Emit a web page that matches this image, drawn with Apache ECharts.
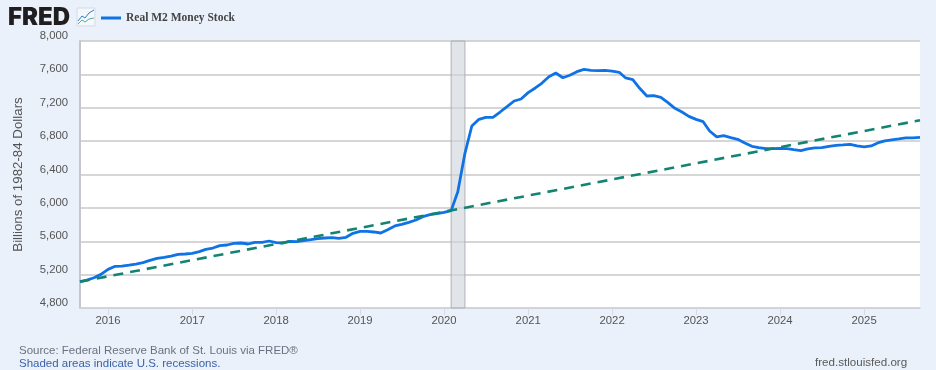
<!DOCTYPE html>
<html>
<head>
<meta charset="utf-8">
<style>html,body{margin:0;padding:0;background:#eaf1fa}#c{width:936px;height:370px}</style>
<script src="https://cdn.jsdelivr.net/npm/echarts@6/dist/echarts.min.js"></script>
</head>
<body>
<div id="c"></div>
<script>
const startYear = 2015, startMonth = 8; // September 2015, first observation
const m2Values = [
  5115,5135,5163,5203,
  5263,5300,5303,5315,5327,5343,5370,5395,5407,5423,5443,5447,
  5455,5475,5503,5519,5547,5555,5575,5579,5567,5587,5587,5603,
  5583,5579,5599,5595,5607,5619,5631,5639,5643,5635,5647,5695,
  5719,5719,5711,5699,5739,5783,5803,5827,5855,5895,5919,5931,
  5947,5967,6194,6654,6981,7061,7085,7085,7149,7213,7281,7305,
  7381,7437,7493,7572,7616,7560,7589,7632,7660,7649,7644,7649,
  7640,7625,7557,7537,7433,7341,7345,7325,7261,7193,7149,7097,
  7061,7033,6921,6852,6865,6841,6821,6778,6738,6721,6709,6709,
  6714,6709,6697,6685,6706,6718,6721,6738,6750,6754,6762,6742,
  6730,6742,6778,6802,6814,6826,6838,6838,6846
];
const trendDates = ['2015-09-01','2025-09-01'];
const trendValues = [5115,7050];
const recession = ['2020-02-01','2020-04-01'];
const yearTicks = ['2016','2017','2018','2019','2020','2021','2022','2023','2024','2025'];
const yTicks = [4800,5200,5600,6000,6400,6800,7200,7600,8000];

const ms = d => Date.parse(d+'T00:00:00Z');
const m2Series = m2Values.map((v,i)=>[Date.UTC(startYear,startMonth+i,1),v]);
const trendSeries = trendDates.map((d,i)=>[ms(d),trendValues[i]]);
const yearStamps = yearTicks.map(y=>Date.UTC(+y,0,1));
const font = '"Liberation Sans", Arial, sans-serif';

const chart = echarts.init(document.getElementById('c'),null,{renderer:'canvas'});
chart.setOption({
  animation:false,
  backgroundColor:'#eaf1fa',
  textStyle:{fontFamily:font},
  grid:{left:80,right:16,top:41,bottom:62,show:true,backgroundColor:'#fff',borderWidth:0,outerBoundsMode:'none'},
  legend:{
    data:['Real M2 Money Stock'],left:96,top:7,itemWidth:20,itemHeight:3,icon:'rect',itemGap:5,
    textStyle:{fontFamily:'"Liberation Serif", serif',fontWeight:'bold',fontSize:11.5,color:'#444'}
  },
  xAxis:{
    type:'value',
    min:ms(trendDates[0]),
    max:ms(trendDates[1]),
    axisLine:{lineStyle:{color:'#cfd4da',width:1.5}},
    axisTick:{show:true,length:7,lineStyle:{color:'#d5dbe2'},customValues:yearStamps},
    axisLabel:{color:'#555',fontSize:11.3,margin:7,customValues:yearStamps,hideOverlap:false,
      formatter:v=>String(new Date(v).getUTCFullYear())},
    splitLine:{show:false}
  },
  yAxis:{
    type:'value',min:4800,max:8000,interval:400,
    name:'Billions of 1982-84 Dollars',nameLocation:'middle',nameGap:55,
    nameTextStyle:{color:'#555',fontSize:13.3,fontFamily:font},
    axisLine:{show:true,lineStyle:{color:'#c4c8cd',width:2}},
    axisTick:{show:false},
    axisLabel:{color:'#555',fontSize:11.3,margin:12,verticalAlign:'bottom',lineHeight:10,
      formatter:v=>yTicks.includes(v)?v.toLocaleString('en-US'):''},
    splitLine:{show:true,lineStyle:{color:'#c9c9c9',width:1.6}}
  },
  series:[
    {
      name:'Real M2 Money Stock',type:'line',data:m2Series,showSymbol:false,symbol:'none',
      lineStyle:{color:'#0f73e6',width:2.8},itemStyle:{color:'#0f73e6'},z:3,
      markArea:{silent:true,itemStyle:{color:'rgba(205,212,220,0.6)',borderColor:'#aeb2b6',borderWidth:1},
        data:[[{xAxis:ms(recession[0])},{xAxis:ms(recession[1])}]]}
    },
    {
      name:'Trend',type:'line',data:trendSeries,showSymbol:false,symbol:'none',
      lineStyle:{color:'#138472',width:2.6,type:[10,7]},z:4
    }
  ],
  graphic:[
    {type:'text',left:8,top:6,style:{text:'FRED',fontFamily:'Inter, sans-serif',fontWeight:900,fontSize:24,fill:'#1f1f1f'}},
    {type:'rect',shape:{x:77,y:8,width:18,height:18},style:{fill:'#f4f7fb',stroke:'#d5dbe2',lineWidth:1}},
    {type:'polyline',shape:{points:[[78,21],[82,16],[85,18],[89,13],[94,10]]},style:{stroke:'#2a7fd6',fill:null,lineWidth:1}},
    {type:'polyline',shape:{points:[[78,24],[82,20],[85,22],[89,19],[94,18]]},style:{stroke:'#58b09a',fill:null,lineWidth:1}},
    {type:'text',left:19,top:345,style:{text:'Source: Federal Reserve Bank of St. Louis via FRED®',fontFamily:font,fontSize:11.5,fill:'#6a7280'}},
    {type:'text',left:19,top:358,style:{text:'Shaded areas indicate U.S. recessions.',fontFamily:font,fontSize:11.5,fill:'#3b62a8'}},
    {type:'text',left:815,top:357,style:{text:'fred.stlouisfed.org',fontFamily:font,fontSize:11.6,fill:'#5a5a5a'}}
  ]
});
</script>
</body>
</html>
